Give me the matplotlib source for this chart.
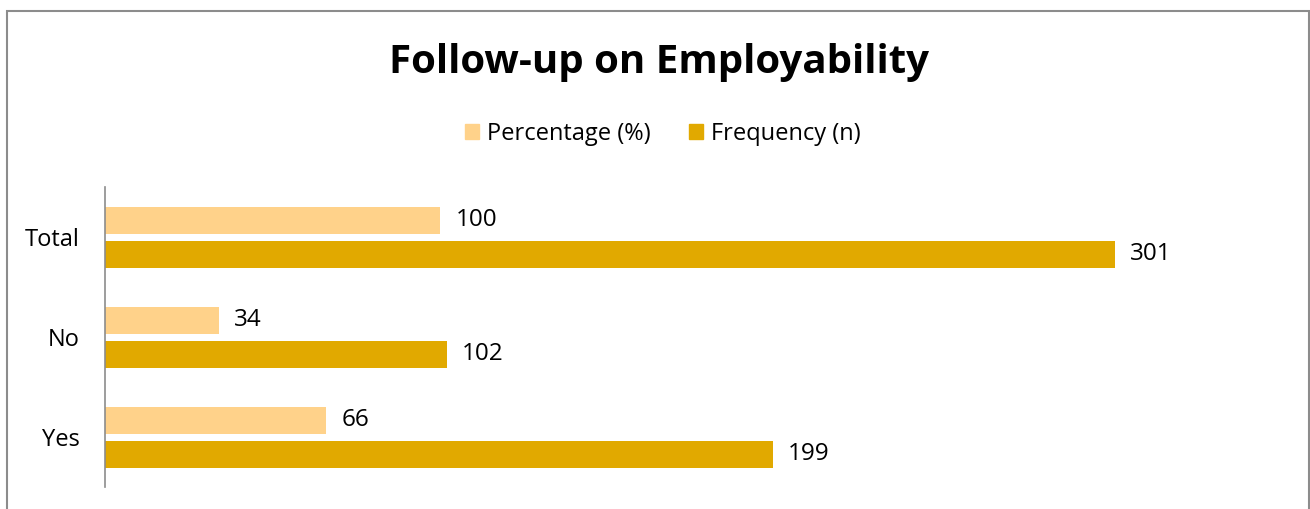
import matplotlib.pyplot as plt
from matplotlib.patches import Rectangle, Patch

# Data
categories = ["Yes", "No", "Total"]
percentage = [66, 34, 100]
frequency = [199, 102, 301]

pct_color = "#FFD28A"
freq_color = "#E1A900"

plt.rcParams['font.family'] = ['Open Sans', 'DejaVu Sans']

fig = plt.figure(figsize=(13.1, 5.09), dpi=100)
ax = fig.add_axes([105 / 1310, 22 / 509, 1174 / 1310, 300 / 509])

y = list(range(len(categories)))
h = 0.27
off = 0.17
ax.barh([v + off for v in y], percentage, height=h, color=pct_color, label="Percentage (%)")
ax.barh([v - off for v in y], frequency, height=h, color=freq_color, label="Frequency (n)")

for yi, p, f in zip(y, percentage, frequency):
    ax.text(p + 4.5, yi + off, str(p), va="center", ha="left", fontsize=17.5)
    ax.text(f + 4.5, yi - off, str(f), va="center", ha="left", fontsize=17.5)

ax.set_xlim(0, 350)
ax.set_ylim(-0.5, 2.5)
ax.set_yticks(y)
ax.set_yticklabels(categories, fontsize=17)
ax.tick_params(axis="y", length=0, pad=18)
ax.set_xticks([])
for s in ["top", "right", "bottom"]:
    ax.spines[s].set_visible(False)
ax.spines["left"].set_color("#8C8C8C")
ax.spines["left"].set_linewidth(1.2)

fig.text(659 / 1310, 1 - 63 / 509, "Follow-up on Employability", ha="center", va="center",
         fontsize=29, fontweight="bold")

handles = [Patch(color=pct_color), Patch(color=freq_color)]
fig.legend(handles, ["Percentage (%)", "Frequency (n)"], loc="center",
           bbox_to_anchor=(663 / 1310, 1 - 134 / 509), ncol=2, frameon=False,
           fontsize=17, handlelength=0.6, handleheight=0.6, handletextpad=0.35,
           columnspacing=1.6)

# outer chart border
fig.patches.append(Rectangle((7 / 1310, -0.1), 1302 / 1310, 1.1 - 11 / 509,
                             transform=fig.transFigure, fill=False,
                             edgecolor="#8C8C8C", linewidth=1.5))

fig.savefig("out.png", dpi=100)
